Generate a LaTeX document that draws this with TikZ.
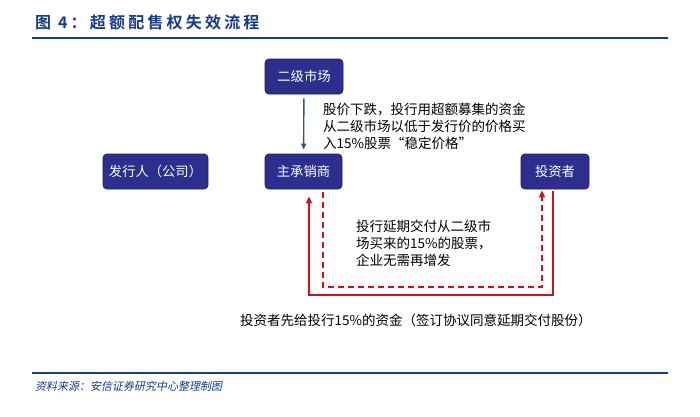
\documentclass[tikz,border=0pt]{standalone}
\usepackage{fontspec}
\setmainfont{Noto Sans CJK SC}[BoldFont={Noto Sans CJK SC Bold}]
\newfontfamily\srcfont{Noto Sans CJK SC}[FakeSlant=0.2]
\usetikzlibrary{arrows.meta}
\definecolor{boxfill}{RGB}{45,47,142}
\definecolor{boxline}{RGB}{30,32,105}
\definecolor{titleblue}{RGB}{22,58,140}
\definecolor{flowblue}{RGB}{47,85,151}
\definecolor{flowred}{RGB}{204,18,30}
\tikzset{
  party/.style={draw=boxline, line width=.8pt, fill=boxfill, rounded corners=4pt, text=white,
    font=\fontsize{13.3}{16}\selectfont, minimum height=35pt, inner sep=0pt},
  note/.style={anchor=north west, align=left, inner sep=0pt, font=\fontsize{13.5}{17}\selectfont},
  rule/.style={draw=titleblue, line width=2pt},
  pay/.style={draw=flowred, line width=1.8pt, -{Triangle[length=7pt,width=6pt]}},
  shares/.style={pay, dash pattern=on 6pt off 4pt}
}
\begin{document}
\begin{tikzpicture}[x=1pt, y=-1pt]
  \useasboundingbox[fill=white] (0,0) rectangle (700,416);
  % heading
  \node[anchor=west, inner sep=0pt, text=titleblue, font=\bfseries\fontsize{16}{18}\selectfont\addfontfeature{LetterSpace=20}] (title) at (35,22) {图 4：超额配售权失效流程};
  \draw[rule] (32,38) -- (668,38);
  % parties
  \node[party, minimum width=78pt] (mkt) at (304,76.5) {二级市场};
  \node[party, minimum width=105pt] (issuer) at (155.5,171.5) {发行人（公司）};
  \node[party, minimum width=77pt] (uw) at (303.5,171.5) {主承销商};
  \node[party, minimum width=68pt] (inv) at (555,171.5) {投资者};
  % stabilising purchase
  \draw[draw=flowblue, line width=1.4pt, -{Triangle[length=6pt,width=5pt]}, shorten <=4pt, shorten >=4pt] (mkt) -- (uw);
  \node[note] (buy) at (323,103) {股价下跌，投行用超额募集的资金\\从二级市场以低于发行价的价格买\\入15\%股票“稳定价格”};
  % money and shares
  \coordinate (payR) at (553,295);
  \coordinate (payL) at (309,295);
  \coordinate (shrL) at (323,287);
  \coordinate (shrR) at (542,287);
  \draw[pay, shorten <=2pt, shorten >=7pt] (inv.south -| payR) -- (payR) -- (payL) -- (uw.south -| payL);
  \draw[shares, shorten <=3pt, shorten >=1pt] (uw.south -| shrL) -- (shrL) -- (shrR) -- (inv.south -| shrR);
  \node[note] (defer) at (356,220) {投行延期交付从二级市\\场买来的15\%的股票，\\企业无需再增发};
  \node[anchor=west, inner sep=0pt, font=\fontsize{13.5}{16}\selectfont] (prepay) at (240,320) {投资者先给投行15\%的资金（签订协议同意延期交付股份）};
  % source
  \draw[rule] (32,373) -- (668,373);
  \node[anchor=west, inner sep=0pt, text=titleblue, font=\srcfont\fontsize{11}{13}\selectfont] (src) at (35,386) {资料来源：安信证券研究中心整理制图};
\end{tikzpicture}
\end{document}
